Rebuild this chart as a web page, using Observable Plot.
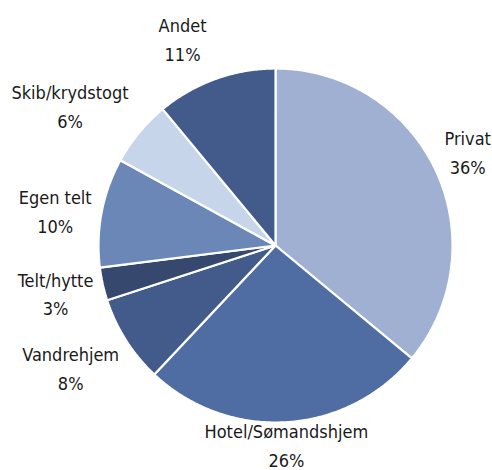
<!DOCTYPE html>
<html>
<head>
<meta charset="utf-8">
<script src="https://cdn.jsdelivr.net/npm/d3@7"></script>
<script src="https://cdn.jsdelivr.net/npm/@observablehq/plot@0.6"></script>
<style>
  html, body { margin: 0; padding: 0; background: #fff; }
  #chart svg { display: block; }
</style>
</head>
<body>
<div id="chart"></div>
<script>
// Data
const categories = ["Privat", "Hotel/Sømandshjem", "Vandrehjem", "Telt/hytte", "Egen telt", "Skib/krydstogt", "Andet"];
const shares = [36, 26, 8, 3, 10, 6, 11];
const labels = ["36%", "26%", "8%", "3%", "10%", "6%", "11%"];
const colors = ["#9fb0d3", "#4f6ca3", "#425b8a", "#36486e", "#6a87b7", "#c6d5e9", "#425b8a"];

// Layout (pixels)
const W = 492, H = 470;
const CX = 275, CY = 245, R = 177;
const LABEL_R = 1.25;              // label anchor radius, in pie radii
const labelNudge = [[-8, -1], [-3, -23], [-18, 2], [-4, -2], [-3, 5], [-35, 0], [-18, 0]];
const FONT = "'DejaVu Sans Condensed', 'DejaVu Sans', sans-serif";
const FS = 18, LH = 1.6;

const pie = d3.pie().sort(null).value(d => d)(shares);

// slice polygons in unit coordinates (angle clockwise from top)
const slices = pie.map((p, i) => {
  const pts = [{x: 0, y: 0}];
  const n = Math.max(2, Math.ceil((p.endAngle - p.startAngle) / 0.01));
  for (let k = 0; k <= n; k++) {
    const a = p.startAngle + (p.endAngle - p.startAngle) * k / n;
    pts.push({x: Math.sin(a), y: Math.cos(a)});
  }
  pts.push({x: 0, y: 0});
  return {name: categories[i], color: colors[i], pts};
});

const labelData = pie.map((p, i) => {
  const a = (p.startAngle + p.endAngle) / 2;
  return {
    x: Math.sin(a) * LABEL_R + labelNudge[i][0] / R,
    y: Math.cos(a) * LABEL_R - labelNudge[i][1] / R,
    text: categories[i] + "\n" + labels[i]
  };
});

const marks = slices.map(s => Plot.line(s.pts, {
  x: "x", y: "y", fill: s.color, stroke: "white", strokeWidth: 2.2, strokeLinejoin: "miter", curve: "linear"
}));
marks.push(Plot.text(labelData, {
  x: "x", y: "y", text: "text", fill: "#1a1a1a", fontSize: FS, lineHeight: LH,
  textAnchor: "middle", lineAnchor: "middle"
}));

const chart = Plot.plot({
  width: W, height: H,
  marginTop: 0, marginRight: 0, marginBottom: 0, marginLeft: 0,
  x: {domain: [-1, 1], range: [CX - R, CX + R], axis: null},
  y: {domain: [-1, 1], range: [CY + R, CY - R], axis: null},
  style: {fontFamily: FONT, background: "white", overflow: "visible"},
  marks
});
document.getElementById("chart").appendChild(chart);
</script>
</body>
</html>
